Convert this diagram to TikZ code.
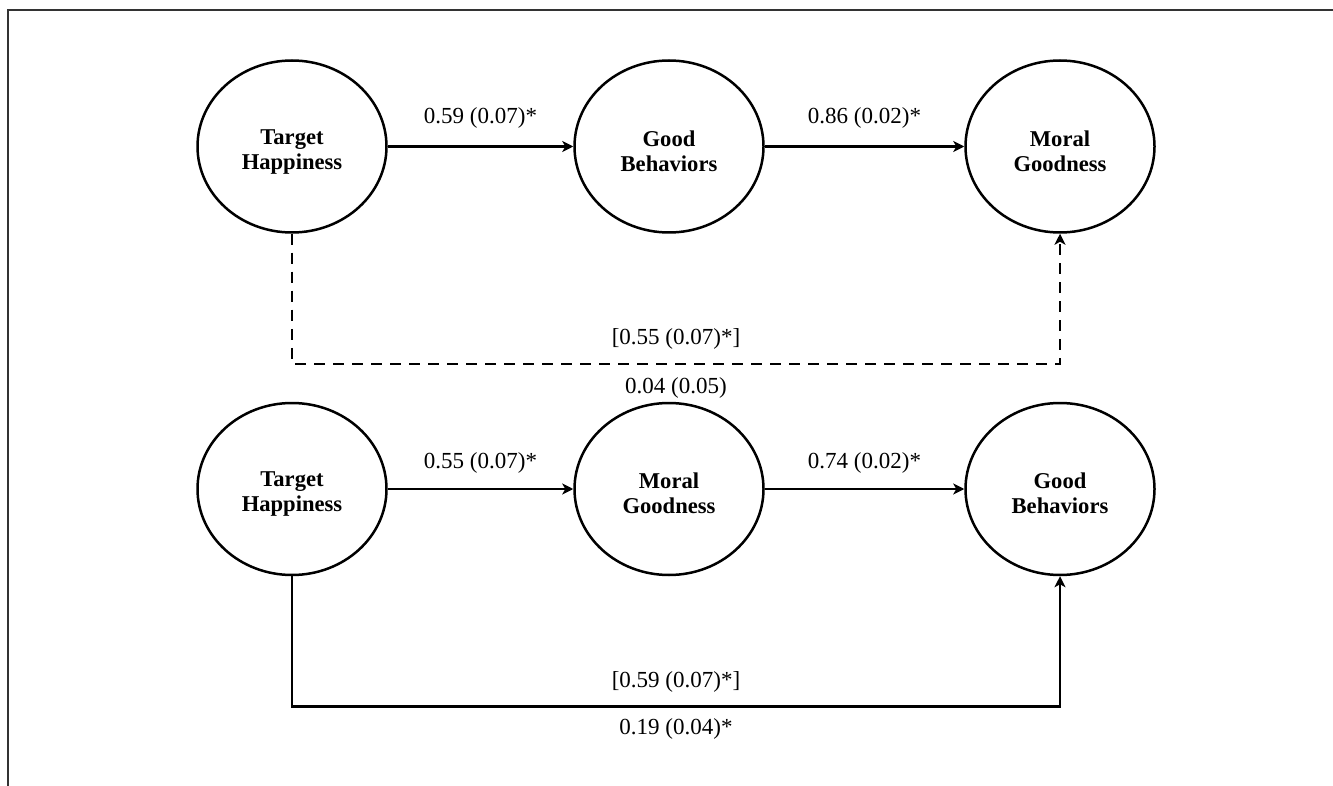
\documentclass[tikz,border=0pt]{standalone}
\usepackage{fontspec}
\setmainfont{Liberation Serif}
\usetikzlibrary{arrows.meta,positioning,shapes.geometric}

\newcommand{\lift}{\rule{0pt}{12.5pt}}

\begin{document}
\begin{tikzpicture}[node distance=188.5pt,
  latent/.style={draw, ellipse, line width=1.25pt, minimum width=94.5pt, minimum height=86pt, inner sep=0pt, align=center, font=\fontsize{11.3}{12.5}\selectfont\bfseries},
  coef/.style={font=\fontsize{11.5}{13}\selectfont},
  link/.style={line width=1.25pt, -{Stealth[length=5.5pt,width=5.5pt,inset=1.5pt]}}]
\useasboundingbox (0,0) rectangle (666.5pt,-393pt);
\draw[line width=0.8pt, black!80] (666.5pt,-5pt) -- (4pt,-5pt) -- (4pt,-393pt);

% model 1
\node (th1) [latent] at (146pt,-73.25pt) {\lift Target\\Happiness};
\node (gb1) [latent, right of=th1] {\lift Good\\Behaviors};
\node (mg1) [latent, right of=gb1, xshift=7pt] {\lift Moral\\Goodness};
\draw[link] (th1) -- node[coef, above=5pt] {0.59 (0.07)*} (gb1);
\draw[link] (gb1) -- node[coef, above=5pt] {0.86 (0.02)*} (mg1);
\draw[link, dash pattern=on 5.5pt off 4pt] (th1.south) -- ++(0,-65pt) -| node[coef, pos=.25, above=3pt] {[0.55 (0.07)*]} node[coef, pos=.25, below=3pt] {0.04 (0.05)} (mg1.south);

% model 2
\node (th2) [latent] at (146pt,-244.5pt) {\lift Target\\Happiness};
\node (mg2) [latent, right of=th2] {\lift Moral\\Goodness};
\node (gb2) [latent, right of=mg2, xshift=7pt] {\lift Good\\Behaviors};
\draw[link] (th2) -- node[coef, above=4pt] {0.55 (0.07)*} (mg2);
\draw[link] (mg2) -- node[coef, above=4pt] {0.74 (0.02)*} (gb2);
\draw[link] (th2.south) -- ++(0,-65pt) -| node[coef, pos=.25, above=3pt] {[0.59 (0.07)*]} node[coef, pos=.25, below=2pt] {0.19 (0.04)*} (gb2.south);
\end{tikzpicture}
\end{document}
